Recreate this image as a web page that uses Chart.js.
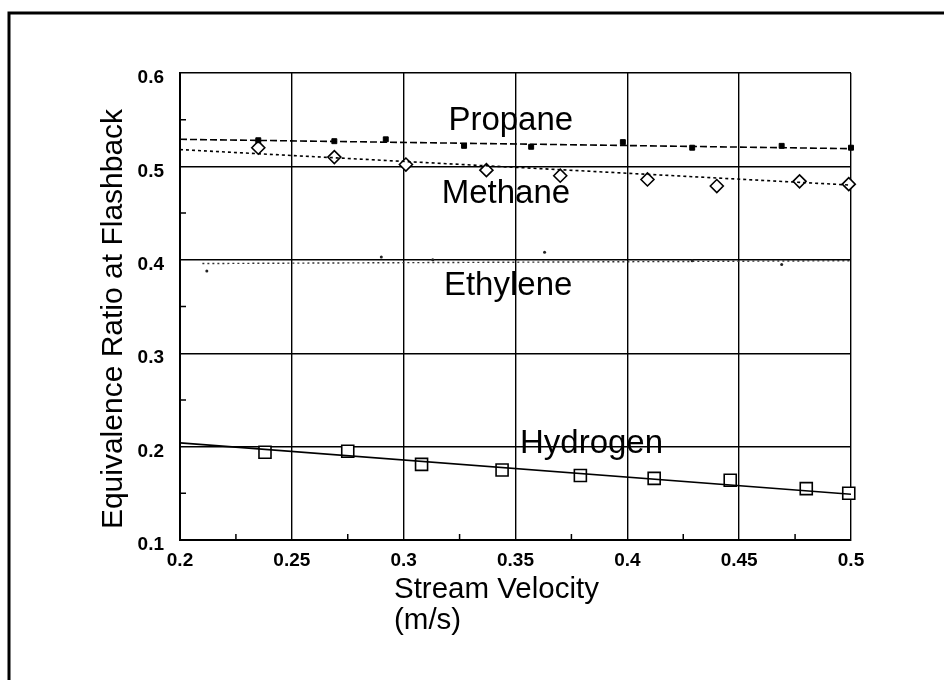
<!DOCTYPE html>
<html>
<head>
<meta charset="utf-8">
<script src="https://cdn.jsdelivr.net/npm/chart.js@4/dist/chart.umd.min.js"></script>
<style>
  html, body { margin: 0; padding: 0; background: #fff; }
  canvas { display: block; }
</style>
</head>
<body>
<canvas id="chart" width="944" height="680"></canvas>
<script>
// values
const propaneX = [0.235, 0.269, 0.292, 0.327, 0.357, 0.398, 0.429, 0.469, 0.500];
const propaneY = [0.528, 0.527, 0.529, 0.522, 0.521, 0.526, 0.520, 0.522, 0.520];
const methaneX = [0.235, 0.269, 0.301, 0.337, 0.370, 0.409, 0.440, 0.477, 0.499];
const methaneY = [0.520, 0.510, 0.502, 0.496, 0.490, 0.486, 0.479, 0.484, 0.481];
const ethyleneX = [0.212, 0.290, 0.313, 0.363, 0.429, 0.469];
const ethyleneY = [0.388, 0.403, 0.400, 0.408, 0.399, 0.395];
const hydrogenX = [0.238, 0.275, 0.308, 0.344, 0.379, 0.412, 0.446, 0.480, 0.499];
const hydrogenY = [0.194, 0.195, 0.181, 0.175, 0.169, 0.166, 0.164, 0.155, 0.150];

// fitted trend lines (end points)
const propaneFitX = [0.2, 0.5];
const propaneFitY = [0.529, 0.519];
const methaneFitX = [0.2, 0.5];
const methaneFitY = [0.518, 0.480];
const ethyleneFitX = [0.21, 0.5];
const ethyleneFitY = [0.396, 0.399];
const hydrogenFitX = [0.2, 0.5];
const hydrogenFitY = [0.204, 0.149];

const xTicks = [0.2, 0.25, 0.3, 0.35, 0.4, 0.45, 0.5];
const yTicks = [0.1, 0.2, 0.3, 0.4, 0.5, 0.6];
const xMinor = [0.225, 0.275, 0.325, 0.375, 0.425, 0.475];
const yMinor = [0.15, 0.25, 0.35, 0.45, 0.55];

const labelText = ['Propane', 'Methane', 'Ethylene', 'Hydrogen'];
const labelX = [0.320, 0.317, 0.318, 0.352];
const labelY = [0.539, 0.461, 0.362, 0.193];

const FONT = '"Liberation Sans", Arial, sans-serif';

function pts(xs, ys) {
  return xs.map((x, i) => ({ x, y: ys[i] }));
}

const fitLine = (xs, ys, dash) => ({
  type: 'line',
  data: pts(xs, ys),
  showLine: true,
  borderColor: '#000',
  borderWidth: 1.6,
  borderDash: dash,
  pointRadius: 0,
  fill: false
});

const decor = {
  id: 'decor',
  beforeDraw(chart) {
    const ctx = chart.ctx;
    ctx.save();
    ctx.fillStyle = '#fff';
    ctx.fillRect(0, 0, chart.width, chart.height);
    // scan frame (top and left edges only)
    ctx.strokeStyle = '#000';
    ctx.lineWidth = 3;
    ctx.beginPath();
    ctx.moveTo(9, chart.height);
    ctx.lineTo(9, 13);
    ctx.lineTo(chart.width, 13);
    ctx.stroke();
    ctx.restore();
  },
  afterDraw(chart) {
    const ctx = chart.ctx;
    const xs = chart.scales.x, ys = chart.scales.y;
    const area = chart.chartArea;
    ctx.save();
    // minor ticks, pointing inward
    ctx.strokeStyle = '#000';
    ctx.lineWidth = 1.5;
    ctx.beginPath();
    yMinor.forEach(v => {
      const py = ys.getPixelForValue(v);
      ctx.moveTo(area.left, py);
      ctx.lineTo(area.left + 6, py);
    });
    xMinor.forEach(v => {
      const px = xs.getPixelForValue(v);
      ctx.moveTo(px, area.bottom);
      ctx.lineTo(px, area.bottom - 6);
    });
    ctx.stroke();

    // series labels
    ctx.fillStyle = '#000';
    ctx.font = '33px ' + FONT;
    ctx.textAlign = 'left';
    ctx.textBaseline = 'alphabetic';
    labelText.forEach((t, i) => {
      ctx.fillText(t, xs.getPixelForValue(labelX[i]), ys.getPixelForValue(labelY[i]));
    });

    // axis titles
    ctx.font = '29.5px ' + FONT;
    ctx.fillText('Stream Velocity', 394, 598);
    ctx.fillText('(m/s)', 394, 629);

    ctx.translate(122, 319);
    ctx.rotate(-Math.PI / 2);
    ctx.textAlign = 'center';
    ctx.font = '30px ' + FONT;
    ctx.fillText('Equivalence Ratio at Flashback', 0, 0);
    ctx.restore();
  }
};

new Chart(document.getElementById('chart'), {
  type: 'scatter',
  data: {
    datasets: [
      fitLine(propaneFitX, propaneFitY, [7, 3]),
      fitLine(methaneFitX, methaneFitY, [3, 3]),
      Object.assign(fitLine(ethyleneFitX, ethyleneFitY, [2, 3]), { borderColor: '#333', borderWidth: 1.4 }),
      fitLine(hydrogenFitX, hydrogenFitY, []),
      {
        label: 'Propane',
        data: pts(propaneX, propaneY),
        pointStyle: 'rect',
        pointRadius: 3.5,
        backgroundColor: '#000',
        borderColor: '#000',
        borderWidth: 1,
        clip: false
      },
      {
        label: 'Methane',
        data: pts(methaneX, methaneY),
        pointStyle: 'rectRot',
        pointRadius: 6.5,
        backgroundColor: '#fff',
        borderColor: '#000',
        borderWidth: 1.6,
        clip: false
      },
      {
        label: 'Ethylene',
        data: pts(ethyleneX, ethyleneY),
        pointStyle: 'circle',
        pointRadius: 1.5,
        backgroundColor: '#222',
        borderColor: '#222',
        borderWidth: 0
      },
      {
        label: 'Hydrogen',
        data: pts(hydrogenX, hydrogenY),
        pointStyle: 'rect',
        pointRadius: 8.5,
        backgroundColor: '#fff',
        borderColor: '#000',
        borderWidth: 1.6,
        clip: false
      }
    ]
  },
  options: {
    responsive: false,
    animation: false,
    devicePixelRatio: 1,
    layout: { padding: { top: 73, right: 93, left: 0, bottom: 0 } },
    plugins: {
      legend: { display: false },
      tooltip: { enabled: false }
    },
    scales: {
      x: {
        type: 'linear',
        min: 0.2,
        max: 0.5,
        afterFit: s => { s.height = 140; },
        afterBuildTicks: s => { s.ticks = xTicks.map(v => ({ value: v })); },
        ticks: {
          color: '#000',
          font: { family: FONT, size: 19, weight: 'bold' },
          padding: 9,
          maxRotation: 0,
          callback: v => String(Number(v.toFixed(2)))
        },
        grid: { color: '#000', lineWidth: 1.4, drawTicks: false },
        border: { color: '#000', width: 2 }
      },
      y: {
        min: 0.1,
        max: 0.6,
        afterFit: s => { s.width = 180; },
        afterBuildTicks: s => { s.ticks = yTicks.map(v => ({ value: v })); },
        ticks: {
          color: '#000',
          font: { family: FONT, size: 19, weight: 'bold' },
          padding: 16,
          labelOffset: 5,
          callback: v => v.toFixed(1)
        },
        grid: { color: '#000', lineWidth: 1.4, drawTicks: false },
        border: { color: '#000', width: 2 }
      }
    }
  },
  plugins: [decor]
});
</script>
</body>
</html>
